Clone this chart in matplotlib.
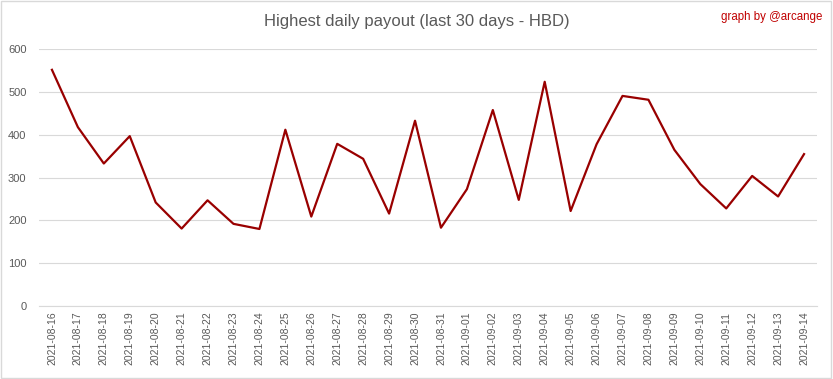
import matplotlib.pyplot as plt
from matplotlib.patches import Rectangle

dates = ["2021-08-16", "2021-08-17", "2021-08-18", "2021-08-19", "2021-08-20",
         "2021-08-21", "2021-08-22", "2021-08-23", "2021-08-24", "2021-08-25",
         "2021-08-26", "2021-08-27", "2021-08-28", "2021-08-29", "2021-08-30",
         "2021-08-31", "2021-09-01", "2021-09-02", "2021-09-03", "2021-09-04",
         "2021-09-05", "2021-09-06", "2021-09-07", "2021-09-08", "2021-09-09",
         "2021-09-10", "2021-09-11", "2021-09-12", "2021-09-13", "2021-09-14"]
payout = [552, 418, 333, 397, 242, 181, 247, 192, 180, 412,
          209, 379, 344, 216, 433, 183, 273, 458, 248, 524,
          222, 378, 491, 482, 365, 285, 228, 304, 256, 355]
yticks = [0, 100, 200, 300, 400, 500, 600]

plt.rcParams['font.family'] = ['Liberation Sans', 'DejaVu Sans']
fig = plt.figure(figsize=(8.33, 3.79), dpi=100)
ax = fig.add_axes([0.0468, 0.1926, 0.9340, 0.6774])

x = list(range(len(dates)))
ax.plot(x, payout, color='#990000', linewidth=1.6)

ax.set_xlim(-0.5, len(dates) - 0.5)
ax.set_ylim(0, 600)
ax.set_yticks(yticks)
ax.set_xticks(x)
ax.set_xticklabels(dates, rotation=90, fontsize=7.5, color='#595959')
ax.tick_params(axis='y', labelsize=8, labelcolor='#595959', length=0, pad=9)
ax.tick_params(axis='x', length=0, pad=4)
ax.grid(axis='y', color='#D9D9D9', linewidth=0.8)
ax.set_axisbelow(True)
for s in ['top', 'right', 'left']:
    ax.spines[s].set_visible(False)
ax.spines['bottom'].set_color('#D9D9D9')
ax.spines['bottom'].set_linewidth(0.8)

fig.text(0.5, 0.942, "Highest daily payout (last 30 days - HBD)", ha='center', va='center',
         fontsize=12, color='#595959')
fig.text(0.987, 0.955, "graph by @arcange", ha='right', va='center',
         fontsize=8.3, color='#C00000')

fig.patches.append(Rectangle((0.001, 0.002), 0.997, 0.995, transform=fig.transFigure,
                             fill=False, edgecolor='#D9D9D9', linewidth=1))

fig.savefig("out.png", dpi=100, facecolor='white')
